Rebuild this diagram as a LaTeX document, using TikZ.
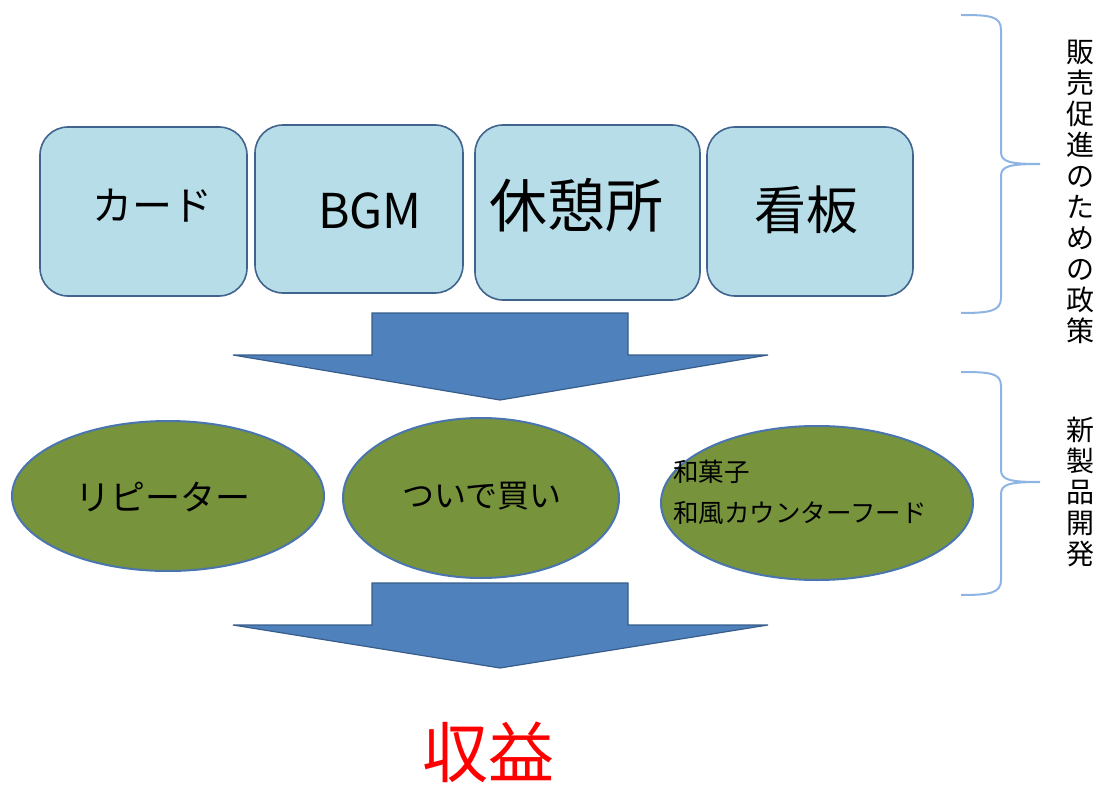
\documentclass[tikz,border=0pt]{standalone}
\usepackage{fontspec}
\setmainfont{Noto Sans CJK JP}
\usetikzlibrary{shapes.geometric}
\definecolor{boxfill}{HTML}{B7DDE8}
\definecolor{boxline}{HTML}{41648F}
\definecolor{arrfill}{HTML}{4F81BD}
\definecolor{arrline}{HTML}{385D8A}
\definecolor{ellfill}{HTML}{77933C}
\definecolor{ellline}{HTML}{4A75AE}
\definecolor{bracecol}{HTML}{8EB4E3}
\tikzset{
  policybox/.style={draw=boxline, line width=1.6pt, fill=boxfill, rounded corners=28pt},
  bigarrow/.style={draw=arrline, line width=1.2pt, fill=arrfill},
  oval/.style={draw=ellline, line width=2pt, fill=ellfill},
  bracepath/.style={draw=bracecol, line width=2pt},
  lbl/.style={inner sep=0pt, text=black},
  vtext/.style={inner sep=0pt, align=center, font=\fontsize{28}{31}\selectfont}
}
\begin{document}
\begin{tikzpicture}[x=1pt,y=-1pt]
\useasboundingbox (0,0) rectangle (1100,786);
% policy boxes
\draw[policybox] (40,127) rectangle (247,296);
\draw[policybox] (255,125) rectangle (463,293);
\draw[policybox] (475,125) rectangle (700,300);
\draw[policybox] (707,127) rectangle (913,296);
\node[lbl, font=\fontsize{40}{44}\selectfont] (card) at (152,206) {カード};
\node[lbl, font=\fontsize{48}{52}\selectfont] (bgm) at (370,211) {BGM};
\node[lbl, font=\fontsize{58}{62}\selectfont] (rest) at (576,205) {休憩所};
\node[lbl, font=\fontsize{52}{56}\selectfont] (sign) at (806,210) {看板};
% arrow 1
\draw[bigarrow] (372,313) -- (628,313) -- (628,355) -- (768,355) -- (500,400) -- (233,355) -- (372,355) -- cycle;
% ellipses
\draw[oval] (168,496) ellipse [x radius=156, y radius=75];
\draw[oval] (481,498) ellipse [x radius=138, y radius=80];
\draw[oval] (817,503) ellipse [x radius=156, y radius=77];
\node[lbl, font=\fontsize{35}{38}\selectfont] (rep) at (163,497) {リピーター};
\node[lbl, font=\fontsize{32}{36}\selectfont] (tsuide) at (482,496) {ついで買い};
\node[lbl, anchor=west, align=left, font=\fontsize{25.5}{41}\selectfont] (wagashi) at (673,492) {和菓子\\和風カウンターフード};
% arrow 2
\draw[bigarrow] (372,583) -- (628,583) -- (628,625) -- (768,625) -- (500,668) -- (233,625) -- (372,625) -- cycle;
% revenue
\node[lbl, text=red, font=\fontsize{66}{70}\selectfont] (rev) at (488,752) {収益};
% braces
\draw[bracepath] (961,15) .. controls (990,15) and (1001,16) .. (1001,30) -- (1001,152)
  .. controls (1001,162) and (1010,164) .. (1040,164)
  .. controls (1010,164) and (1001,166) .. (1001,176) -- (1001,298)
  .. controls (1001,311) and (990,313) .. (961,313);
\draw[bracepath] (961,372) .. controls (990,372) and (1001,373) .. (1001,386) -- (1001,470)
  .. controls (1001,480) and (1010,482) .. (1040,482)
  .. controls (1010,482) and (1001,484) .. (1001,494) -- (1001,580)
  .. controls (1001,593) and (990,595) .. (961,595);
\node[vtext] (policy) at (1080,192) {販\\売\\促\\進\\の\\た\\め\\の\\政\\策};
\node[vtext] (newprod) at (1080,492) {新\\製\\品\\開\\発};
\end{tikzpicture}
\end{document}
